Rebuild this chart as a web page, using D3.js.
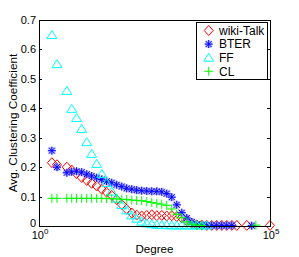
<!DOCTYPE html>
<html><head><meta charset="utf-8">
<script src="https://cdn.jsdelivr.net/npm/d3@7"></script>
<style>
body{margin:0;background:#fff}
svg{display:block}
text{font-family:"Liberation Sans",Arial,Helvetica,sans-serif;fill:#000}
</style>
</head><body>
<svg id="chart" width="299" height="257"></svg>
<script>
// ---- data ----
const degreeBins = [1.9, 2.45, 4, 5.1, 6.5, 8.4, 10.8, 13.8, 17.7, 22.8, 29, 37.5, 48, 62, 79, 102, 130, 167, 215, 276, 354, 454, 582, 747, 959, 1230, 1580, 2030, 2600, 3340, 4280, 5490, 7040, 9030, 11600, 14900, 19100];

const wikiDegree = degreeBins.concat([31400, 100000]);
const wikiValue = [0.215, 0.208, 0.2, 0.19, 0.178, 0.165, 0.155, 0.145, 0.136, 0.125, 0.115, 0.104, 0.09, 0.073, 0.057, 0.044, 0.037, 0.034, 0.036, 0.038, 0.035, 0.036, 0.034, 0.035, 0.032, 0.028, 0.018, 0.009, 0.004, 0.003, 0.002, 0.002, 0.002, 0.002, 0.002, 0.002, 0.002, 0.002, 0.002];

const bterDegree = degreeBins.slice(0, 36).concat([40300]);
const bterValue = [0.256, 0.2, 0.181, 0.184, 0.186, 0.183, 0.176, 0.17, 0.164, 0.158, 0.152, 0.147, 0.14, 0.134, 0.128, 0.125, 0.122, 0.12, 0.119, 0.118, 0.118, 0.116, 0.11, 0.098, 0.072, 0.045, 0.027, 0.014, 0.006, 0.003, 0.002, 0.002, 0.002, 0.002, 0.002, 0.002, 0.001];

const ffDegree = degreeBins.slice(0, 31);
const ffValue = [0.649, 0.55, 0.459, 0.398, 0.367, 0.33, 0.285, 0.245, 0.211, 0.177, 0.146, 0.117, 0.093, 0.071, 0.053, 0.036, 0.025, 0.015, 0.009, 0.006, 0.004, 0.003, 0.003, 0.002, 0.002, 0.002, 0.002, 0.002, 0.002, 0.002, 0.002];

const clDegree = degreeBins.slice(0, 30).concat([49500]);
const clValue = [0.094, 0.094, 0.094, 0.094, 0.094, 0.094, 0.094, 0.094, 0.094, 0.094, 0.093, 0.093, 0.092, 0.091, 0.09, 0.088, 0.087, 0.086, 0.083, 0.08, 0.077, 0.074, 0.07, 0.058, 0.04, 0.028, 0.014, 0.006, 0.003, 0.002, 0.003];

const seriesNames = ["wiki-Talk", "BTER", "FF", "CL"];
const yTicks = [0, 0.1, 0.2, 0.3, 0.4, 0.5, 0.6, 0.7];
const xTicks = [1, 100000];
const xTickExp = ["0", "5"];

// ---- drawing ----
const svg = d3.select("#chart");
const L = 39, R = 270, T = 20, B = 226;
const x = d3.scaleLog().domain([1, 1e5]).range([L, R]);
const y = d3.scaleLinear().domain([0, 0.7]).range([B, T]);

const markers = {
  "wiki-Talk": {color: "#ff0000", path: "M0,-5L4.5,0L0,5L-4.5,0Z"},
  "BTER": {color: "#0000ff", path: "M-4,0H4M0,-4V4M-3,-3L3,3M-3,3L3,-3"},
  "FF": {color: "#00ffff", path: "M0,-4.5L5,3.5L-5,3.5Z"},
  "CL": {color: "#00ff00", path: "M-4.5,0H4.5M0,-4.5V4.5"}
};
const series = [
  {name: "wiki-Talk", deg: wikiDegree, val: wikiValue},
  {name: "BTER", deg: bterDegree, val: bterValue},
  {name: "FF", deg: ffDegree, val: ffValue},
  {name: "CL", deg: clDegree, val: clValue}
];

function drawMarker(g, name, px, py) {
  const mk = markers[name];
  if (name === "BTER") {
    g.append("path").attr("d", mk.path).attr("transform", `translate(${px},${py})`)
      .attr("fill", "none").attr("stroke", "#8f8fff").attr("stroke-width", 2.4).attr("stroke-opacity", 0.6);
  }
  g.append("path").attr("d", mk.path).attr("transform", `translate(${px},${py})`)
    .attr("fill", "none").attr("stroke", mk.color).attr("stroke-width", 1);
}

const plot = svg.append("g");
series.forEach(s => {
  const g = plot.append("g");
  s.deg.forEach((d, i) => drawMarker(g, s.name, x(d), y(s.val[i])));
});

// axes
const fmt = d => d === 0 ? "0" : d.toFixed(1);
const axLeft = svg.append("g").attr("transform", `translate(${L},0)`)
  .call(d3.axisLeft(y).tickValues(yTicks).tickSizeInner(-3).tickSizeOuter(0).tickPadding(3).tickFormat(fmt));
const axRight = svg.append("g").attr("transform", `translate(${R},0)`)
  .call(d3.axisRight(y).tickValues(yTicks).tickSizeInner(-3).tickSizeOuter(0).tickFormat(""));
const axBottom = svg.append("g").attr("transform", `translate(0,${B})`)
  .call(d3.axisBottom(x).tickValues(xTicks).tickSizeInner(-3).tickSizeOuter(0).tickFormat(""));
const axTop = svg.append("g").attr("transform", `translate(0,${T})`)
  .call(d3.axisTop(x).tickValues(xTicks).tickSizeInner(-3).tickSizeOuter(0).tickFormat(""));
[axLeft, axRight, axBottom, axTop].forEach(a => {
  a.selectAll("path,line").attr("stroke", "#000").attr("shape-rendering", "crispEdges");
  a.selectAll("text").attr("font-size", 11).attr("font-family", '"Liberation Sans",Arial,sans-serif').attr("fill", "#000");
});
axLeft.selectAll("text").filter(d => d === 0).attr("dy", "0.05em");

// x tick labels: base "10" and a separate superscript exponent
xTicks.forEach((t, i) => {
  const cx = x(t) + 1;
  const base = svg.append("text").attr("y", 238.5).attr("font-size", 11).text("10");
  const bw = base.node().getComputedTextLength();
  const sup = svg.append("text").attr("y", 233.5).attr("font-size", 8).text(xTickExp[i]);
  const sw = sup.node().getComputedTextLength();
  const x0 = cx - (bw + sw) / 2;
  base.attr("x", x0);
  sup.attr("x", x0 + bw);
});

svg.append("text").attr("x", (L + R) / 2).attr("y", 253).attr("text-anchor", "middle").attr("font-size", 11.6).text("Degree");
svg.append("text").attr("transform", `translate(16.5,${(T + B) / 2}) rotate(-90)`).attr("text-anchor", "middle").attr("font-size", 11.8).text("Avg. Clustering Coefficient");

// legend
const lg = svg.append("g");
lg.append("rect").attr("x", 196.5).attr("y", 22.5).attr("width", 71).attr("height", 57)
  .attr("fill", "#fff").attr("stroke", "#000").attr("stroke-width", 1);
seriesNames.forEach((n, i) => {
  const ly = 30.5 + i * 13.6;
  drawMarker(lg, n, 208.7, ly);
  lg.append("text").attr("x", 219).attr("y", ly + 4.3).attr("font-size", 12).text(n);
});
</script>
</body></html>
